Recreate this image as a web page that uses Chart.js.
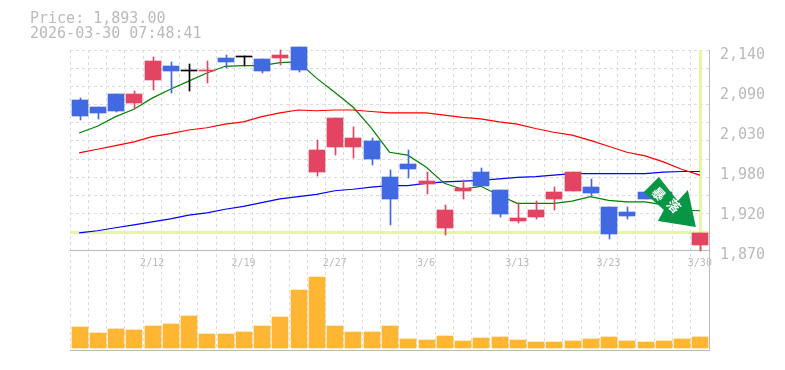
<!DOCTYPE html>
<html>
<head>
<meta charset="utf-8">
<title>Price chart</title>
<script src="https://cdn.jsdelivr.net/npm/chart.js@4"></script>
<style>
    html, body { margin: 0; padding: 0; background: #fff; }
    canvas { display: block; }
</style>
</head>
<body>
<canvas id="price-chart" width="785" height="370"></canvas>
<script>
const dates = ['2/5','2/6','2/9','2/10','2/12','2/13','2/16','2/17','2/18','2/19','2/20','2/24','2/25','2/26','2/27',
    '3/2','3/3','3/4','3/5','3/6','3/9','3/10','3/11','3/12','3/13','3/16','3/17','3/18','3/19','3/23','3/24','3/25','3/26','3/27','3/30'];
const shownDates = ['2/12','2/19','2/27','3/6','3/13','3/23','3/30'];

const opens  = [2073,2063,2081,2068,2100,2118,2112,2112,2129,2131,2128,2129,2144,1975,2009,2009,2017,1969,1986,1959,1900,1950,1975,1951,1909,1915,1939,1950,1955,1928,1921,1948,1948,1927,1877];
const highs  = [2075,2063,2081,2085,2131,2124,2121,2125,2133,2132,2128,2140,2144,2018,2048,2036,2021,1978,2005,1975,1931,1965,1981,1951,1933,1936,1955,1975,1966,1928,1928,1948,1948,1927,1893];
const lows   = [2046,2047,2056,2060,2086,2082,2085,2095,2116,2118,2109,2120,2110,1970,1998,1994,1985,1904,1967,1946,1890,1939,1956,1915,1906,1912,1924,1950,1943,1885,1912,1939,1935,1911,1869];
const closes = [2051,2055,2058,2081,2125,2112,2112,2113.5,2124,2131,2112,2133,2113,2005,2048,2021,1993,1939,1979,1963,1924,1954,1956,1919,1913,1924,1948,1975,1947,1892,1916,1939,1937,1913,1893];

const maShort = [2028,2037,2050,2060,2075,2087,2098,2109,2118,2119,2119,2123,2124,2102,2083,2063,2035,2002,1998,1982,1960,1952,1956,1944,1933,1933,1933,1936,1942,1937,1935,1935,1931,1924,1923];
const maMid   = [2001,2006,2011,2016,2023,2027,2032,2035,2040,2043,2050,2055,2059,2058,2059,2059,2057,2055,2055,2055,2052,2049,2047,2043,2040,2034,2029,2025,2018,2010,2002,1997,1989,1979,1971];
const maLong  = [1893,1896,1900,1904,1908,1912,1917,1920,1925,1929,1934,1939,1942,1945,1950,1952,1955,1957,1957,1960,1962,1963,1964,1966,1968,1969,1971,1973,1973,1973,1973,1973,1975,1976,1976];

const volumes = [2100,1500,1900,1800,2200,2400,3200,1400,1400,1600,2200,3100,5800,7100,2200,1600,1600,2200,900,800,1200,700,1000,1100,800,600,600,700,900,1100,700,600,700,900,1100];

const lastPrice = 1893;
const priceText = 'Price: 1,893.00';
const timeText = '2026-03-30 07:48:41';
const arrowText = ['暴', '落'];

const gridPrices = [2140,2115.5,2090.9,2066.4,2041.8,2017.3,1992.7,1968.2,1943.6,1919.1,1894.5,1870];
const labelPrices = [2140,2086,2032,1978,1924,1870];

const GRAY = '#bababa';
const RED = '#e34462';
const BLUE = '#4169e1';

const candleColors = opens.map((o, i) => {
    if (closes[i] > o) return RED;
    if (closes[i] < o) return BLUE;
    return '#000';
});

// bars land on fractional pixels, snap them so the candles stay crisp
const snapBars = {
    id: 'snapBars',
    beforeDatasetDraw(chart, args) {
        if (args.meta.type !== 'bar') return;
        args.meta.data.forEach(bar => {
            bar.x = Math.ceil(bar.x) + (bar.width % 2 ? 0.5 : 0);
            bar.y = Math.round(bar.y);
            bar.base = Math.round(bar.base);
        });
    }
};

const frame = {
    id: 'frame',
    beforeDatasetsDraw(chart) {
        const {ctx, chartArea: area, scales} = chart;
        const lastX = scales.x.getPixelForValue(dates.length - 1);
        const lastY = scales.y.getPixelForValue(lastPrice);
        const panelBottom = scales.y.getPixelForValue(1870);
        ctx.save();
        ctx.strokeStyle = GRAY;
        ctx.lineWidth = 1;
        ctx.beginPath();
        ctx.moveTo(area.left, panelBottom + 0.5);
        ctx.lineTo(area.right, panelBottom + 0.5);
        ctx.moveTo(area.left, area.bottom + 0.5);
        ctx.lineTo(area.right + 1, area.bottom + 0.5);
        ctx.moveTo(area.right + 0.5, area.top);
        ctx.lineTo(area.right + 0.5, area.bottom);
        ctx.stroke();
        ctx.strokeStyle = '#e6f5a8';
        ctx.lineWidth = 3;
        ctx.beginPath();
        ctx.moveTo(area.left, Math.round(lastY) - 0.5);
        ctx.lineTo(area.right, Math.round(lastY) - 0.5);
        ctx.moveTo(Math.round(lastX) + 0.5, area.top);
        ctx.lineTo(Math.round(lastX) + 0.5, panelBottom);
        ctx.stroke();
        ctx.restore();
    },
    afterDraw(chart) {
        const {ctx, scales} = chart;
        const lastX = scales.x.getPixelForValue(dates.length - 1);
        const lastY = scales.y.getPixelForValue(lastPrice);
        ctx.save();
        ctx.font = '15px "DejaVu Sans Mono"';
        ctx.fillStyle = GRAY;
        ctx.textBaseline = 'middle';
        ctx.fillText(priceText, 30, 19);
        ctx.fillText(timeText, 30, 34);

        // green badge, placed relative to the last candle
        const shape = [[-41,-56],[-56,-41],[-36,-23],[-42,-12],[-4,-6],[-12,-43],[-22,-32]];
        ctx.fillStyle = '#079645';
        ctx.beginPath();
        shape.forEach(p => ctx.lineTo(lastX + p[0], lastY + p[1]));
        ctx.closePath();
        ctx.fill();
        ctx.fillStyle = '#fff';
        ctx.font = 'bold 13px "Noto Sans CJK JP"';
        ctx.textAlign = 'center';
        [[-41,-39],[-26,-27]].forEach((p, i) => {
            ctx.save();
            ctx.translate(lastX + p[0], lastY + p[1]);
            ctx.rotate(Math.PI / 4);
            ctx.fillText(arrowText[i], 0, 0);
            ctx.restore();
        });
        ctx.restore();
    }
};

new Chart(document.getElementById('price-chart').getContext('2d'), {
    type: 'bar',
    data: {
        labels: dates,
        datasets: [
            {
                label: 'Body',
                data: opens.map((o, i) => [o, closes[i]]),
                backgroundColor: candleColors,
                barThickness: 16,
                minBarLength: 1,
                grouped: false,
                clip: false,
                order: 1
            },
            {
                label: 'Wick',
                data: lows.map((l, i) => [l, highs[i]]),
                backgroundColor: candleColors,
                barThickness: 1,
                grouped: false,
                clip: false,
                order: 2
            },
            {type: 'line', label: 'MA short', data: maShort, borderColor: '#008000', borderWidth: 1.2, pointRadius: 0, order: 3},
            {type: 'line', label: 'MA mid', data: maMid, borderColor: '#ff0000', borderWidth: 1.2, pointRadius: 0, order: 3},
            {type: 'line', label: 'MA long', data: maLong, borderColor: '#0000ff', borderWidth: 1.2, pointRadius: 0, order: 3},
            {
                label: 'Volume',
                data: volumes,
                backgroundColor: '#ffb733',
                barThickness: 16,
                grouped: false,
                yAxisID: 'yVol',
                order: 5
            }
        ]
    },
    options: {
        responsive: false,
        animation: false,
        layout: {padding: {left: 70, top: 50, right: 0, bottom: 20}},
        plugins: {legend: {display: false}, tooltip: {enabled: false}},
        scales: {
            x: {
                position: {y: 1870},
                offset: true,
                border: {display: false, dash: [3, 3]},
                grid: {color: '#dcdcdc', drawTicks: false, offset: true},
                ticks: {
                    autoSkip: false,
                    maxRotation: 0,
                    padding: 7,
                    color: GRAY,
                    font: {family: '"DejaVu Sans Mono"', size: 10},
                    callback(value) {
                        const d = dates[value];
                        return shownDates.includes(d) ? d : '';
                    }
                }
            },
            y: {
                position: 'left',
                min: 1735,
                max: 2140,
                border: {display: false, dash: [3, 3]},
                grid: {color: '#dcdcdc', drawTicks: false},
                ticks: {display: false},
                afterBuildTicks(scale) { scale.ticks = gridPrices.map(value => ({value})); },
                afterFit(scale) { scale.width = 0; }
            },
            yLabels: {
                position: 'right',
                min: 1735,
                max: 2140,
                border: {display: false},
                grid: {display: false, drawTicks: false},
                ticks: {
                    autoSkip: false,
                    padding: 11,
                    labelOffset: 5,
                    color: GRAY,
                    font: {family: '"DejaVu Sans Mono"', size: 15},
                    callback: value => (Math.round(value / 10) * 10).toLocaleString('en-US')
                },
                afterBuildTicks(scale) { scale.ticks = labelPrices.map(value => ({value})); },
                afterFit(scale) { scale.width = 76; }
            },
            yVol: {
                display: false,
                min: -200,
                max: 29800
            }
        }
    },
    plugins: [snapBars, frame]
});
</script>
</body>
</html>
